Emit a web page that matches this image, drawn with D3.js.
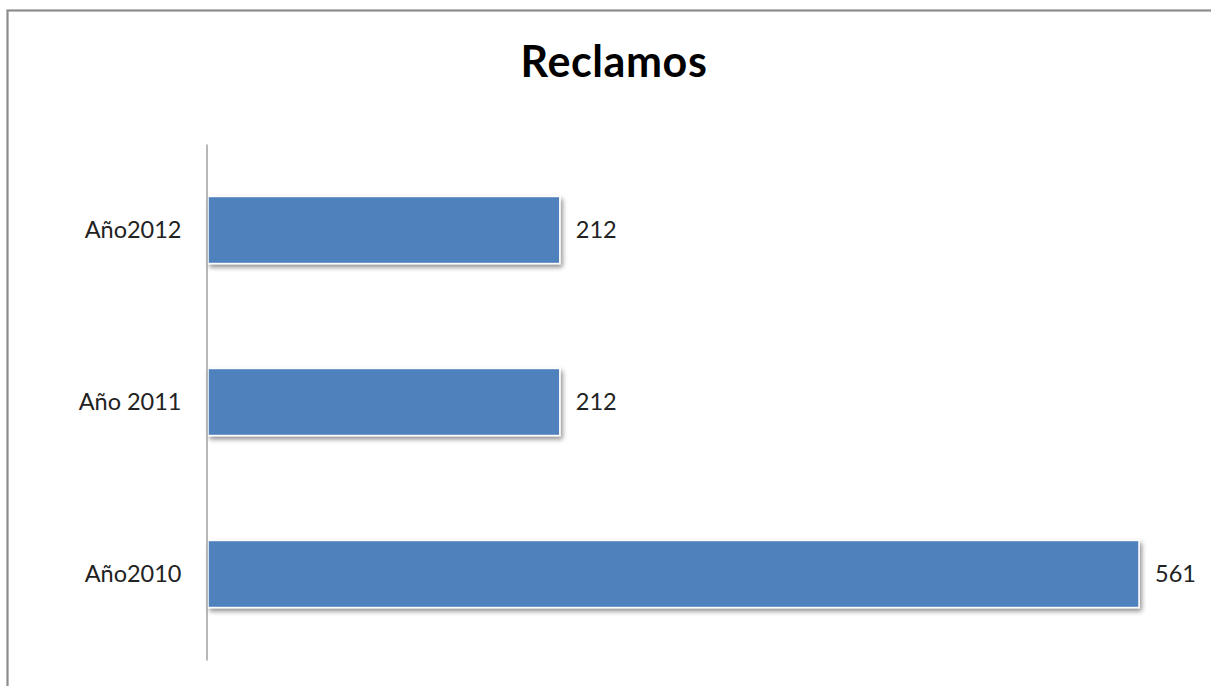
<!DOCTYPE html>
<html>
<head>
<meta charset="utf-8">
<script src="https://cdn.jsdelivr.net/npm/d3@7"></script>
<style>
  html, body { margin: 0; padding: 0; background: #fff; }
  svg { display: block; }
</style>
</head>
<body>
<svg id="chart" width="1211" height="686"></svg>
<script>
// Chart data
const title = "Reclamos";
const categories = ["Año2012", "Año 2011", "Año2010"];
const values = [212, 212, 561];

const width = 1211, height = 686;
const svg = d3.select("#chart");
const font = "Lato, 'Open Sans', sans-serif";

const defs = svg.append("defs");
const f = defs.append("filter").attr("id", "shadow")
  .attr("x", "-5%").attr("y", "-20%").attr("width", "115%").attr("height", "160%");
f.append("feGaussianBlur").attr("in", "SourceAlpha").attr("stdDeviation", 2.5).attr("result", "b");
f.append("feOffset").attr("in", "b").attr("dx", 1.5).attr("dy", 3).attr("result", "o");
f.append("feComponentTransfer").attr("in", "o").attr("result", "s")
  .append("feFuncA").attr("type", "linear").attr("slope", 0.45);
const m = f.append("feMerge");
m.append("feMergeNode").attr("in", "s");
m.append("feMergeNode").attr("in", "SourceGraphic");

// Outer frame
svg.append("rect")
  .attr("x", 7.5).attr("y", 10.5)
  .attr("width", width + 20).attr("height", height + 20)
  .attr("fill", "#fff").attr("stroke", "#8c8c8c").attr("stroke-width", 2.2);

// Title
svg.append("text")
  .attr("x", 614).attr("y", 77)
  .attr("text-anchor", "middle")
  .attr("font-family", font)
  .attr("font-weight", "bold")
  .attr("font-size", 43)
  .attr("letter-spacing", 0.6)
  .attr("fill", "#000")
  .text(title);

const x0 = 208;
const x = d3.scaleLinear().domain([0, 561]).range([x0, 1139]);
const y = d3.scaleBand().domain(categories).range([144, 660])
  .paddingInner(0.61).paddingOuter(0.305);

// Bars
svg.append("g").selectAll("rect")
  .data(values)
  .join("rect")
  .attr("x", x(0))
  .attr("y", (d, i) => y(categories[i]))
  .attr("width", d => x(d) - x(0))
  .attr("height", y.bandwidth())
  .attr("fill", "#4f81bd")
  .attr("stroke", "#fff")
  .attr("stroke-width", 1.5)
  .attr("filter", "url(#shadow)");

// Category axis
const yAxis = svg.append("g")
  .attr("transform", `translate(${206.5},0)`)
  .call(d3.axisLeft(y).tickSize(0).tickPadding(25));
yAxis.select(".domain").attr("stroke", "#a0a0a0").attr("stroke-width", 1.5);
yAxis.selectAll("text")
  .attr("font-family", font)
  .attr("font-size", 23.5)
  .attr("fill", "#222");

// Value labels
svg.append("g").selectAll("text")
  .data(values)
  .join("text")
  .attr("x", d => x(d) + 16)
  .attr("y", (d, i) => y(categories[i]) + y.bandwidth() / 2)
  .attr("dy", "0.35em")
  .attr("font-family", font)
  .attr("font-size", 23.5)
  .attr("fill", "#222")
  .text(d => d);
</script>
</body>
</html>
